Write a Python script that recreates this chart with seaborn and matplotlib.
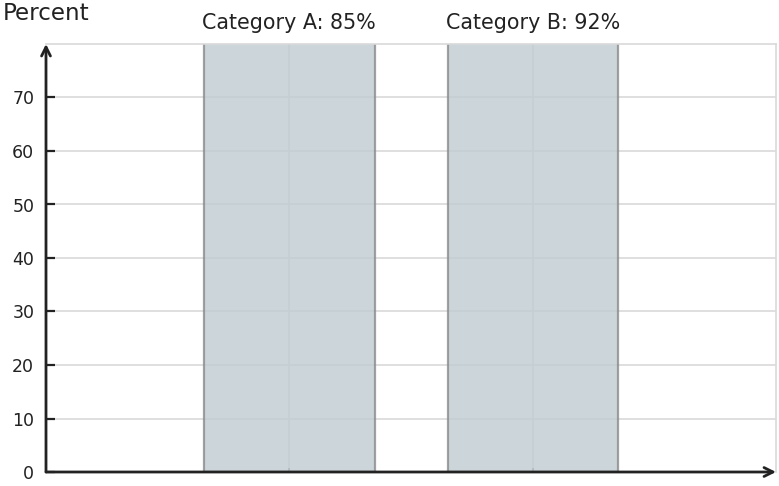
import matplotlib
matplotlib.use('Agg')
import matplotlib.pyplot as plt
import seaborn as sns
import pandas as pd

# data
categories = ['Category A', 'Category B']
percents = [85, 92]
yticks = [0, 10, 20, 30, 40, 50, 60, 70]

df = pd.DataFrame({'category': categories, 'percent': percents})

sns.set_style('whitegrid')
plt.rcParams['font.family'] = ['DejaVu Sans']

fig = plt.figure(figsize=(7.79, 4.86), dpi=100)
ax = fig.add_axes([46 / 779, 14 / 486, 730 / 779, 428 / 486])

sns.barplot(data=df, x='category', y='percent', ax=ax, width=0.7,
            color='#c0ccd1', saturation=1, alpha=0.8,
            edgecolor='#8a8a8a', linewidth=1.6)

ax.set_xlim(-1, 2)
ax.set_ylim(0, 80)
ax.set_yticks(yticks)
ax.set_xticks(range(len(categories)))
ax.set_xticklabels([])
ax.set_xlabel('')
ax.set_ylabel('')

ax.grid(True, color='#d9d9d9', linewidth=1.2)
ax.set_axisbelow(True)
ax.tick_params(axis='y', left=True, direction='in', length=6.5, width=1.6,
               color='#222222', labelsize=12.5, pad=8.5, labelcolor='#222222')
ax.tick_params(axis='x', bottom=True, direction='in', length=3, width=1.5,
               color='#888888')

for side in ['top', 'right']:
    ax.spines[side].set_color('#d9d9d9')
    ax.spines[side].set_linewidth(1.2)
for side in ['left', 'bottom']:
    ax.spines[side].set_visible(False)

# axes with arrows
ax.annotate('', xy=(0, 1), xytext=(0, 0), xycoords='axes fraction',
            arrowprops=dict(arrowstyle='->', color='#222222', lw=2,
                            shrinkA=0, shrinkB=0, mutation_scale=16))
ax.annotate('', xy=(1, 0), xytext=(0, 0), xycoords='axes fraction',
            arrowprops=dict(arrowstyle='->', color='#222222', lw=2,
                            shrinkA=0, shrinkB=0, mutation_scale=16))

# labels above the bars
for i, (cat, p) in enumerate(zip(categories, percents)):
    ax.text(i, 1.05, f'{cat}: {p}%', transform=ax.get_xaxis_transform(),
            ha='center', va='center', fontsize=14.9, color='#222222')

fig.text(3 / 779, 1 - 13 / 486, 'Percent', ha='left', va='center',
         fontsize=16.6, color='#222222')

fig.savefig('out.png', dpi=100)
